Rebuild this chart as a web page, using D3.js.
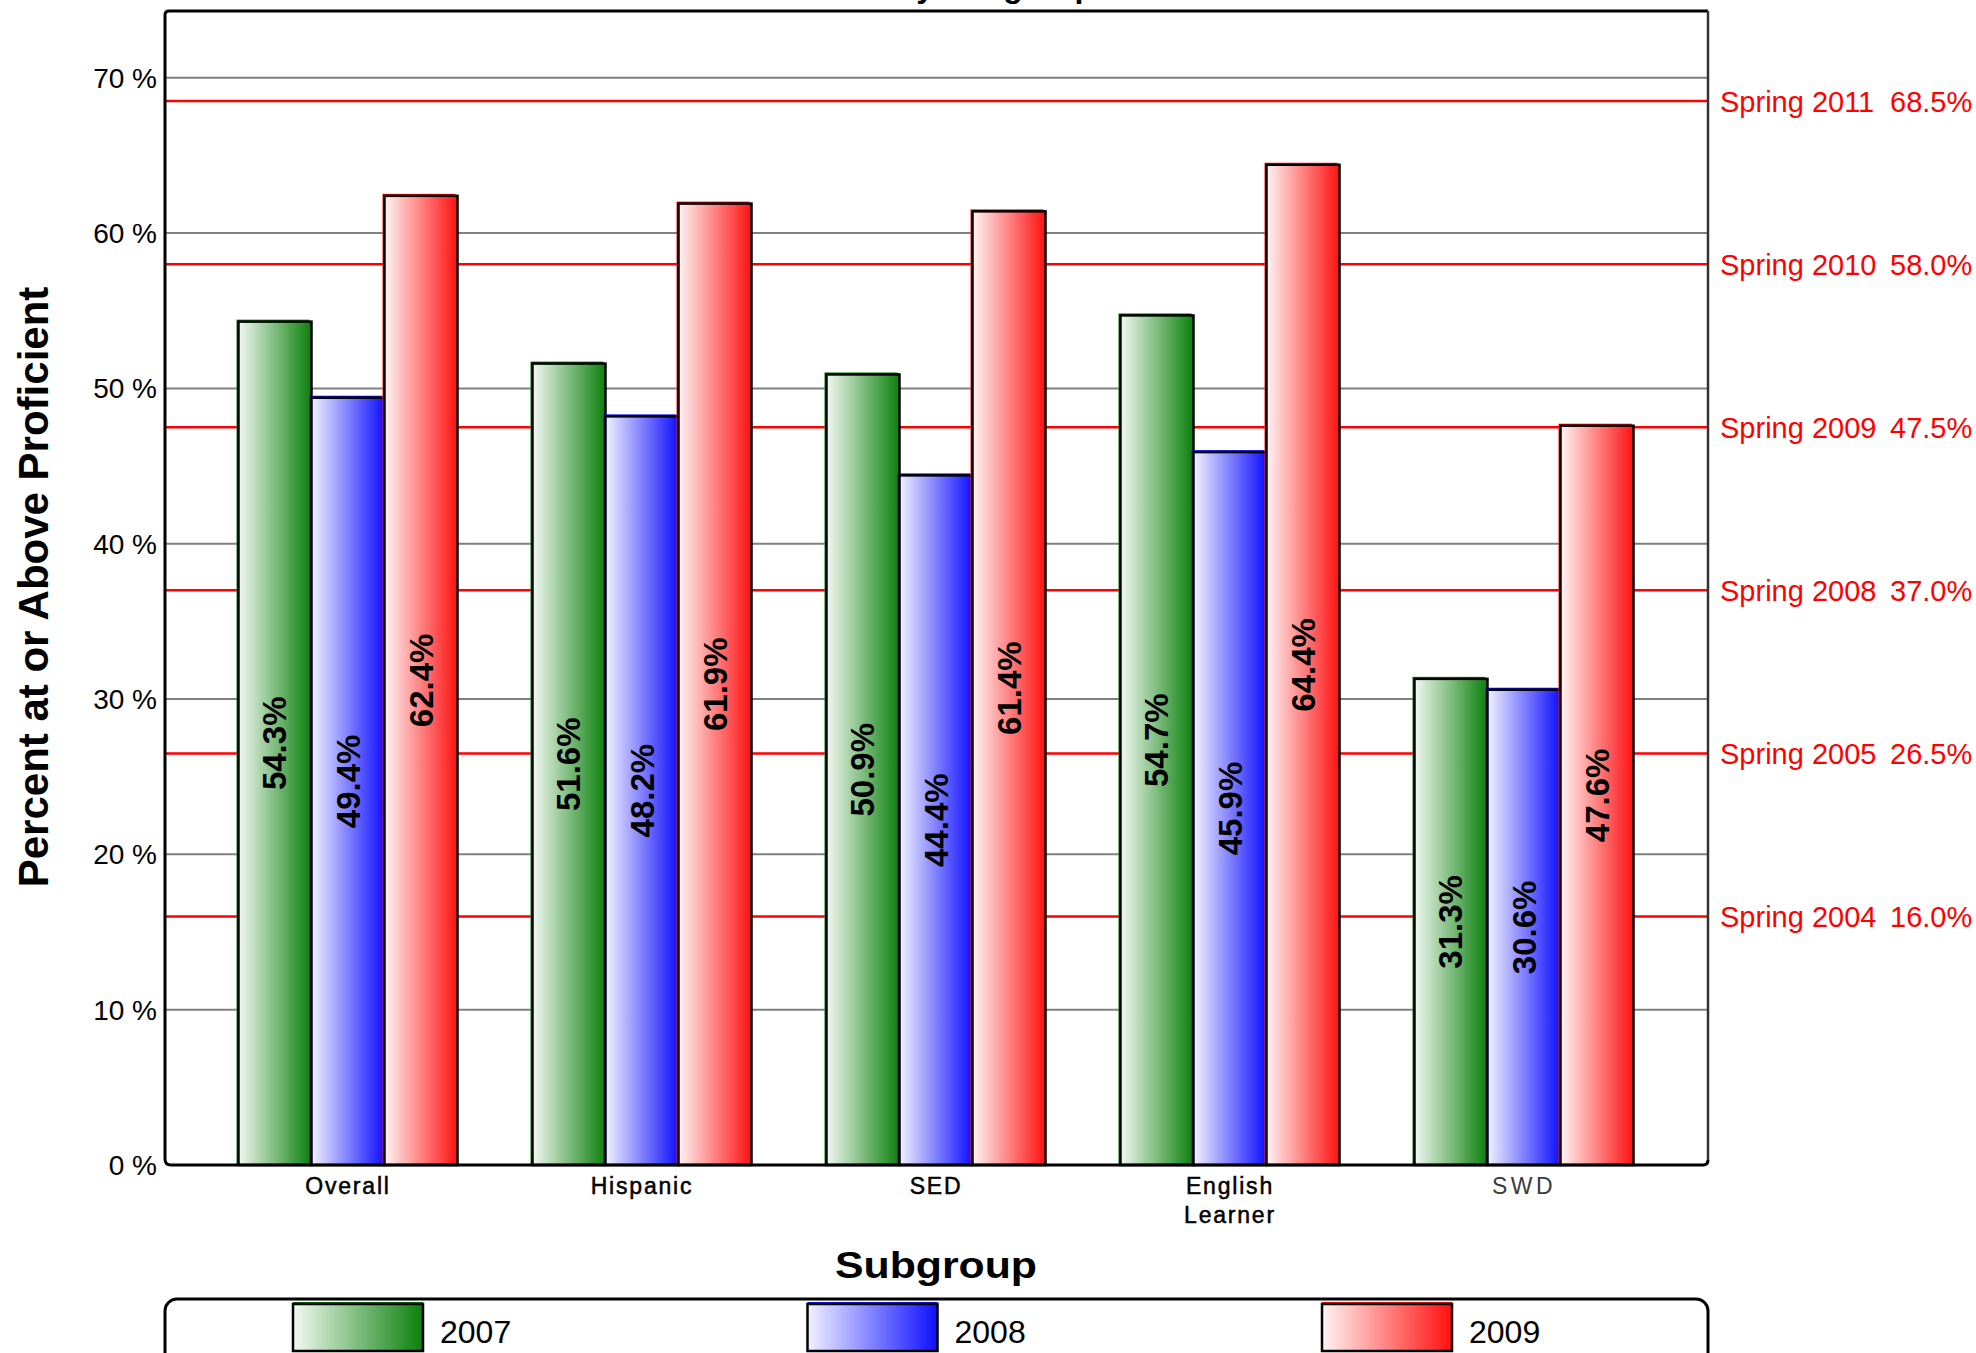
<!DOCTYPE html>
<html>
<head>
<meta charset="utf-8">
<script src="https://cdn.jsdelivr.net/npm/d3@7"></script>
<style>
  html, body { margin: 0; padding: 0; background: #fff; }
  svg { display: block; }
  text { font-family: "Liberation Sans", Arial, sans-serif; }
</style>
</head>
<body>
<svg id="chart" width="1976" height="1353"></svg>
<script>
// ---------- data ----------
const categories = ["Overall", "Hispanic", "SED", "English Learner", "SWD"];
const seriesNames = ["2007", "2008", "2009"];
const values2007 = [54.3, 51.6, 50.9, 54.7, 31.3];
const values2008 = [49.4, 48.2, 44.4, 45.9, 30.6];
const values2009 = [62.4, 61.9, 61.4, 64.4, 47.6];
const yTicks = [0, 10, 20, 30, 40, 50, 60, 70];
const targetLabels = ["Spring 2011", "Spring 2010", "Spring 2009", "Spring 2008", "Spring 2005", "Spring 2004"];
const targetValues = [68.5, 58.0, 47.5, 37.0, 26.5, 16.0];
const seriesColors = ["#0b800b", "#0f0fff", "#ff1010"];
const seriesStart = ["#f2f9f2", "#f2f2ff", "#fff4f4"];

const seriesValues = [values2007, values2008, values2009];

// ---------- layout ----------
const svg = d3.select("#chart");
const plot = { left: 165, right: 1708, top: 11, bottom: 1165 };

const y = d3.scaleLinear().domain([0, 74.3]).range([plot.bottom, plot.top]);
const x0 = d3.scaleBand().domain(categories).range([201, 1671])
  .paddingInner(0.255).paddingOuter(0.1275);
const x1 = d3.scaleBand().domain(seriesNames).range([0, x0.bandwidth()]).padding(0);

// gradients
const defs = svg.append("defs");
seriesNames.forEach((s, i) => {
  const g = defs.append("linearGradient").attr("id", "grad" + i)
    .attr("x1", "0%").attr("x2", "100%").attr("y1", "0%").attr("y2", "0%");
  g.append("stop").attr("offset", "0%").attr("stop-color", seriesStart[i]);
  g.append("stop").attr("offset", "100%").attr("stop-color", seriesColors[i]);
});

// title (cut off at top, as in the reference)
svg.append("text")
  .attr("x", 1094).attr("y", -3)
  .attr("text-anchor", "end")
  .attr("font-size", 32).attr("font-weight", "bold")
  .text("Percent Proficient by Subgroup");

// gridlines
svg.append("g").selectAll("line").data(yTicks.filter(d => d > 0)).join("line")
  .attr("x1", plot.left).attr("x2", plot.right)
  .attr("y1", d => y(d)).attr("y2", d => y(d))
  .attr("stroke", "#808080").attr("stroke-width", 2);

// target lines
svg.append("g").selectAll("line").data(targetValues).join("line")
  .attr("x1", plot.left).attr("x2", plot.right)
  .attr("y1", d => y(d)).attr("y2", d => y(d))
  .attr("stroke", "#ff0000").attr("stroke-width", 2.5);

// target labels
const tl = svg.append("g");
tl.selectAll("text.lab").data(targetLabels).join("text").attr("class", "lab")
  .attr("x", 1720).attr("y", (d, i) => y(targetValues[i]))
  .attr("dy", "0.36em").attr("font-size", 29).attr("fill", "#ff0000")
  .text(d => d);
tl.selectAll("text.val").data(targetValues).join("text").attr("class", "val")
  .attr("x", 1890).attr("y", d => y(d))
  .attr("dy", "0.36em").attr("font-size", 29).attr("fill", "#ff0000")
  .text(d => d.toFixed(1) + "%");

// y tick labels
svg.append("g").selectAll("text").data(yTicks).join("text")
  .attr("x", 157).attr("y", d => y(d)).attr("dy", "0.36em")
  .attr("text-anchor", "end").attr("font-size", 28)
  .text(d => d + " %");

// bars
const groups = svg.append("g").selectAll("g").data(categories).join("g")
  .attr("transform", c => `translate(${x0(c)},0)`);

seriesNames.forEach((s, si) => {
  groups.append("rect")
    .attr("x", x1(s) - 2)
    .attr("y", (c, ci) => y(seriesValues[si][ci]) - 2)
    .attr("width", x1.bandwidth())
    .attr("height", (c, ci) => plot.bottom - y(seriesValues[si][ci]) + 2)
    .attr("fill", seriesColors[si]);
  groups.append("rect")
    .attr("x", x1(s))
    .attr("y", (c, ci) => y(seriesValues[si][ci]))
    .attr("width", x1.bandwidth())
    .attr("height", (c, ci) => plot.bottom - y(seriesValues[si][ci]))
    .attr("fill", `url(#grad${si})`)
    .attr("stroke", "#000").attr("stroke-width", 2.5);
});

// bar value labels
seriesNames.forEach((s, si) => {
  groups.append("text")
    .attr("transform", (c, ci) => {
      const cx = x1(s) + x1.bandwidth() / 2;
      const cy = y(seriesValues[si][ci] / 2);
      return `translate(${cx},${cy}) rotate(-90)`;
    })
    .attr("text-anchor", "middle").attr("dominant-baseline", "central")
    .attr("font-size", 33).attr("font-weight", "bold").attr("fill", "#000")
    .text((c, ci) => seriesValues[si][ci].toFixed(1) + "%");
});

// frame
svg.append("path")
  .attr("d", `M${plot.left},${plot.bottom - 6} L${plot.left},${plot.top + 4} Q${plot.left},${plot.top} ${plot.left + 4},${plot.top} L${plot.right},${plot.top}`)
  .attr("fill", "none").attr("stroke", "#000").attr("stroke-width", 3);
svg.append("path")
  .attr("d", `M${plot.right},${plot.top} L${plot.right},${plot.bottom - 5}`)
  .attr("fill", "none").attr("stroke", "#333").attr("stroke-width", 2.5);
svg.append("path")
  .attr("d", `M${plot.left},${plot.bottom - 6} Q${plot.left},${plot.bottom} ${plot.left + 6},${plot.bottom} L${plot.right - 5},${plot.bottom} Q${plot.right},${plot.bottom} ${plot.right},${plot.bottom - 5}`)
  .attr("fill", "none").attr("stroke", "#000").attr("stroke-width", 3);

// x labels
const xl = svg.append("g");
categories.forEach(c => {
  const cx = x0(c) + x0.bandwidth() / 2;
  const isSWD = c === "SWD";
  const t = xl.append("text")
    .attr("x", cx).attr("y", 1194)
    .attr("text-anchor", "middle")
    .attr("font-family", "'DejaVu Sans', Verdana, sans-serif")
    .attr("font-size", 23)
    .attr("letter-spacing", isSWD ? 3.5 : 1.8)
    .attr("fill", isSWD ? "#3a3a3a" : "#000")
    .attr("stroke", isSWD ? "none" : "#000")
    .attr("stroke-width", isSWD ? 0 : 0.5);
  const words = c === "English Learner" ? ["English", "Learner"] : [c];
  words.forEach((w, wi) => {
    t.append("tspan").attr("x", cx).attr("dy", wi === 0 ? 0 : 29).text(w);
  });
});

// axis titles
svg.append("text")
  .attr("transform", "translate(48,587) rotate(-90)")
  .attr("text-anchor", "middle").attr("font-size", 42).attr("font-weight", "bold")
  .text("Percent at or Above Proficient");

svg.append("text")
  .attr("x", 936).attr("y", 1278)
  .attr("text-anchor", "middle").attr("font-size", 36).attr("font-weight", "bold")
  .attr("textLength", 202).attr("lengthAdjust", "spacingAndGlyphs")
  .text("Subgroup");

// legend
svg.append("rect")
  .attr("x", 165).attr("y", 1299).attr("width", 1543).attr("height", 90)
  .attr("rx", 12).attr("ry", 12)
  .attr("fill", "#fff").attr("stroke", "#000").attr("stroke-width", 3);

const lx = d3.scalePoint().domain(seriesNames).range([293, 1322]);
const lg = svg.append("g").selectAll("g").data(seriesNames).join("g")
  .attr("transform", d => `translate(${lx(d)},1303)`);
lg.append("rect").attr("x", 0).attr("y", -1).attr("width", 130).attr("height", 4)
  .attr("fill", (d, i) => seriesColors[i]);
lg.append("rect").attr("x", 0).attr("y", 1).attr("width", 130).attr("height", 47)
  .attr("fill", (d, i) => `url(#grad${i})`)
  .attr("stroke", "#000").attr("stroke-width", 2.5);
lg.append("text").attr("x", 147).attr("y", 40)
  .attr("font-size", 32).text(d => d);
</script>
</body>
</html>
